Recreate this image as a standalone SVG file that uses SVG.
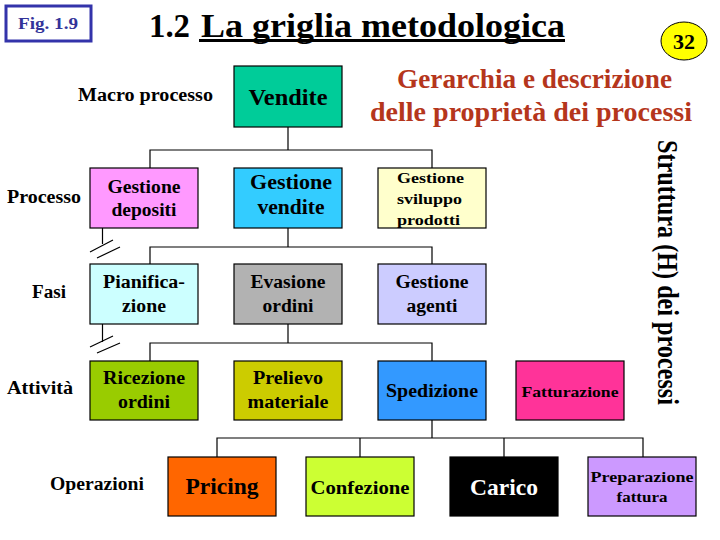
<svg xmlns="http://www.w3.org/2000/svg" width="720" height="540" viewBox="0 0 720 540">
<style>
text{font-family:"Liberation Serif","Times New Roman",serif;font-weight:bold;fill:#000}
.box{stroke:#000;stroke-width:1.2}
.lbl{font-size:18px}
.c{text-anchor:middle}
.t18{font-size:18px;text-anchor:middle}
.t15{font-size:15px;text-anchor:middle}
.t23{font-size:23px;text-anchor:middle}
#connectors path{fill:none;stroke:#000;stroke-width:1.2}
</style>
<rect width="720" height="540" fill="#fff"/>
<g id="fig">
<rect x="6" y="6" width="85" height="35" fill="#fff" stroke="#3333aa" stroke-width="3"/>
<text x="18" y="29" style="font-size:17px;fill:#333399" textLength="60" lengthAdjust="spacingAndGlyphs">Fig. 1.9</text>
</g>
<g id="title">
<text x="149" y="37" style="font-size:33px" textLength="41" lengthAdjust="spacingAndGlyphs">1.2</text>
<text x="201" y="37" style="font-size:33px" textLength="364" lengthAdjust="spacingAndGlyphs">La griglia metodologica</text>
<line x1="199" y1="40.5" x2="565" y2="40.5" stroke="#000" stroke-width="3"/>
</g>
<g id="page">
<ellipse cx="684" cy="41" rx="23" ry="19" fill="#ffff00" stroke="#000" stroke-width="1"/>
<text x="684" y="49" style="font-size:22px;text-anchor:middle">32</text>
</g>
<g id="subtitle">
<text x="397" y="88" style="font-size:28px;fill:#b5361c" textLength="275" lengthAdjust="spacingAndGlyphs">Gerarchia e descrizione</text>
<text x="370" y="121" style="font-size:28px;fill:#b5361c" textLength="322" lengthAdjust="spacingAndGlyphs">delle proprietà dei processi</text>
</g>
<g id="levels">
<text class="lbl" x="78" y="101" textLength="135" lengthAdjust="spacingAndGlyphs">Macro processo</text>
<text class="lbl" x="7" y="203" textLength="74" lengthAdjust="spacingAndGlyphs">Processo</text>
<text class="lbl" x="32" y="298" textLength="34" lengthAdjust="spacingAndGlyphs">Fasi</text>
<text class="lbl" x="7" y="394" textLength="66" lengthAdjust="spacingAndGlyphs">Attività</text>
<text class="lbl" x="50" y="490" textLength="94" lengthAdjust="spacingAndGlyphs">Operazioni</text>
</g>
<g id="axis">
<text transform="translate(658,140) rotate(90)" style="font-size:29px" textLength="265" lengthAdjust="spacingAndGlyphs">Struttura (H) dei processi</text>
</g>
<g id="connectors">
<path d="M288 127V150M150 168V150H432V168"/>
<path d="M288 228V247M150 264V247H432V264"/>
<path d="M288 324V343M150 361V343H432V361"/>
<path d="M432 420V438M217 457V438H643V457M360 438V457M504 438V457"/>
<path d="M102.5 228V244M90 252L113 240M97 258L120 247"/>
<path d="M102.5 324V342M90 347L113 336M97 353L120 343"/>
</g>
<g id="vendite"><rect class="box" x="234" y="66" width="108" height="61" fill="#00cc99"/><text class="t23" x="288" y="105" textLength="79" lengthAdjust="spacingAndGlyphs">Vendite</text></g>
<g id="gestione-depositi"><rect class="box" x="90" y="168" width="108" height="60" fill="#ff99ff"/><text class="t18" x="144" y="193" textLength="73" lengthAdjust="spacingAndGlyphs">Gestione</text><text class="t18" x="144" y="216" textLength="65" lengthAdjust="spacingAndGlyphs">depositi</text></g>
<g id="gestione-vendite"><rect class="box" x="234" y="168" width="108" height="60" fill="#33ccff"/><text class="c" x="291" y="189" style="font-size:20px" textLength="82" lengthAdjust="spacingAndGlyphs">Gestione</text><text class="c" x="291" y="214" style="font-size:20px" textLength="67" lengthAdjust="spacingAndGlyphs">vendite</text></g>
<g id="gestione-sviluppo"><rect class="box" x="378" y="168" width="108" height="60" fill="#ffffcc"/><text class="t15" x="430.5" y="183" textLength="67" lengthAdjust="spacingAndGlyphs">Gestione</text><text class="t15" x="429.5" y="204" textLength="65" lengthAdjust="spacingAndGlyphs">sviluppo</text><text class="t15" x="428.5" y="225" textLength="63" lengthAdjust="spacingAndGlyphs">prodotti</text></g>
<g id="pianificazione"><rect class="box" x="90" y="264" width="108" height="60" fill="#ccffff"/><text class="t18" x="144" y="288" textLength="82" lengthAdjust="spacingAndGlyphs">Pianifica-</text><text class="t18" x="144" y="312" textLength="44" lengthAdjust="spacingAndGlyphs">zione</text></g>
<g id="evasione-ordini"><rect class="box" x="234" y="264" width="108" height="60" fill="#b2b2b2"/><text class="t18" x="288" y="288" textLength="75" lengthAdjust="spacingAndGlyphs">Evasione</text><text class="t18" x="288" y="312" textLength="51" lengthAdjust="spacingAndGlyphs">ordini</text></g>
<g id="gestione-agenti"><rect class="box" x="378" y="264" width="108" height="60" fill="#ccccff"/><text class="t18" x="432" y="288" textLength="73" lengthAdjust="spacingAndGlyphs">Gestione</text><text class="t18" x="432" y="312" textLength="51" lengthAdjust="spacingAndGlyphs">agenti</text></g>
<g id="ricezione-ordini"><rect class="box" x="90" y="361" width="108" height="59" fill="#99cc00"/><text class="t18" x="144" y="384" textLength="82" lengthAdjust="spacingAndGlyphs">Ricezione</text><text class="t18" x="144" y="408" textLength="52" lengthAdjust="spacingAndGlyphs">ordini</text></g>
<g id="prelievo-materiale"><rect class="box" x="234" y="361" width="108" height="59" fill="#cccc00"/><text class="t18" x="288" y="384" textLength="70" lengthAdjust="spacingAndGlyphs">Prelievo</text><text class="t18" x="288" y="408" textLength="81" lengthAdjust="spacingAndGlyphs">materiale</text></g>
<g id="spedizione"><rect class="box" x="378" y="361" width="108" height="59" fill="#3399ff"/><text class="t18" x="432" y="397" textLength="92" lengthAdjust="spacingAndGlyphs">Spedizione</text></g>
<g id="fatturazione"><rect class="box" x="516" y="361" width="108" height="59" fill="#ff3399"/><text class="t15" x="570" y="397" textLength="97" lengthAdjust="spacingAndGlyphs">Fatturazione</text></g>
<g id="pricing"><rect class="box" x="168" y="457" width="108" height="59" fill="#ff6600"/><text class="t23" x="222" y="494" textLength="73" lengthAdjust="spacingAndGlyphs">Pricing</text></g>
<g id="confezione"><rect class="box" x="306" y="457" width="108" height="59" fill="#ccff33"/><text class="c" x="360" y="494" style="font-size:19px" textLength="99" lengthAdjust="spacingAndGlyphs">Confezione</text></g>
<g id="carico"><rect class="box" x="450" y="457" width="108" height="59" fill="#000"/><text class="t23" x="504" y="495" style="fill:#fff" textLength="68" lengthAdjust="spacingAndGlyphs">Carico</text></g>
<g id="preparazione-fattura"><rect class="box" x="588" y="457" width="108" height="59" fill="#cc99ff"/><text class="t15" x="642" y="482" textLength="103" lengthAdjust="spacingAndGlyphs">Preparazione</text><text class="t15" x="642" y="502" textLength="51" lengthAdjust="spacingAndGlyphs">fattura</text></g>
</svg>
